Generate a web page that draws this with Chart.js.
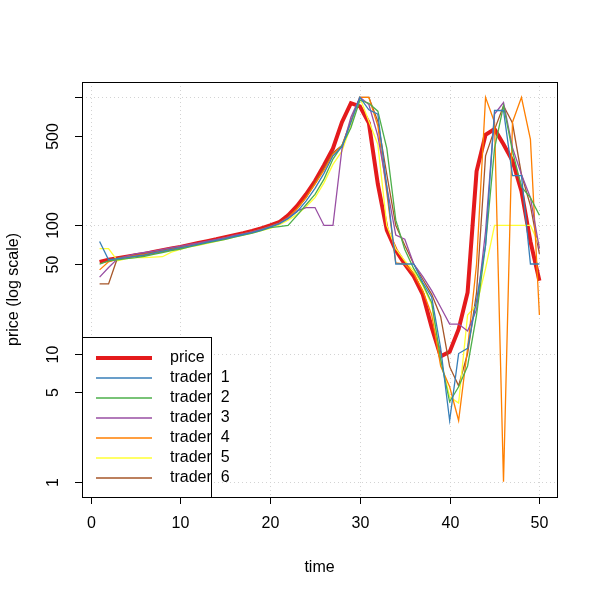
<!DOCTYPE html>
<html>
<head>
  <meta charset="utf-8">
  <script src="https://cdn.jsdelivr.net/npm/chart.js@4.4.1/dist/chart.umd.min.js"></script>
  <style>
    html, body { margin: 0; padding: 0; background: #fff; }
    canvas { display: block; }
  </style>
</head>
<body>
  <canvas id="traderChart" width="600" height="600"></canvas>

  <script>
    // time steps
    const time = [1, 2, 3, 4, 5, 6, 7, 8, 9, 10, 11, 12, 13, 14, 15, 16, 17, 18, 19, 20,
      21, 22, 23, 24, 25, 26, 27, 28, 29, 30, 31, 32, 33, 34, 35, 36, 37, 38, 39, 40,
      41, 42, 43, 44, 45, 46, 47, 48, 49, 50];

    const price = [52, 54, 55.5, 57, 58.5, 60, 62, 64, 66, 68, 70.5, 73, 75.5, 78, 81, 84, 87, 90.5, 95, 100,
      106, 120, 142, 175, 222, 295, 400, 640, 900, 850, 630, 210, 92, 64, 50, 40, 29, 16, 9.5, 10.3,
      15.5, 30, 265, 510, 565, 430, 320, 185, 75, 37];

    const trader1 = [75, 54, 55, 56, 57.5, 59, 61, 63, 65, 67, 69, 71.5, 74, 76.5, 79, 82, 85, 88, 92, 97,
      103, 113, 128, 155, 195, 255, 350, 410, 640, 1000, 800, 740, 200, 50, 50, 50, 36, 27.5, 11, 3,
      10, 11, 26, 70, 790, 790, 245, 245, 50, 50];

    const trader2 = [50, 53, 54, 55, 56, 57.5, 59.5, 61.5, 63.5, 65.5, 68, 70.5, 73, 75.5, 78, 81, 84, 87, 91, 96,
      98, 100, 120, 145, 175, 230, 330, 420, 580, 950, 900, 780, 400, 110, 65, 46, 35, 25, 9, 4.2,
      5.5, 8, 20, 70, 400, 860, 380, 200, 165, 120];

    const trader3 = [39.5, 47, 55, 57.5, 60, 61.5, 63, 65, 67, 69, 71, 73, 75.5, 78, 80.5, 83.5, 86, 89, 93, 98,
      104, 114, 130, 138, 138, 100, 100, 395, 700, 1000, 880, 500, 200, 84, 78, 50, 40, 31, 23, 17,
      17, 15, 22, 90, 740, 910, 405, 250, 165, 66];

    const trader4 = [45, 52, 55, 56.5, 58, 59.5, 61, 63, 65, 67, 69.5, 72, 74.5, 77, 80, 83, 86, 89, 93, 98,
      104, 115, 135, 165, 210, 270, 360, 420, 650, 1000, 1000, 600, 180, 51, 50, 42, 31, 20, 8, 5.5,
      3, 11, 50, 1000, 640, 1, 640, 1000, 470, 20];

    const trader5 = [66, 66, 53, 55, 56, 56, 56.5, 57, 62, 65, 68, 70, 72.5, 75, 78, 81, 84, 87, 91, 95,
      101, 110, 122, 140, 165, 215, 300, 380, 600, 1000, 650, 430, 100, 66, 53, 44, 34, 24, 9, 4.6,
      4.1, 20, 24, 46, 100, 100, 100, 100, 100, 70];

    const trader6 = [35, 35, 56, 57, 58.5, 60, 62, 64, 66, 68, 70, 72.5, 75, 77.5, 80, 83, 86, 89.5, 93.5, 99,
      105, 116, 135, 165, 215, 280, 370, 420, 650, 1000, 1000, 650, 250, 100, 70, 50, 38, 29, 19.4, 7.9,
      5.6, 10, 30, 350, 560, 860, 630, 250, 143, 60];

    const seriesNames = ["price", "trader  1", "trader  2", "trader  3", "trader  4", "trader  5", "trader  6"];
    const seriesData = [price, trader1, trader2, trader3, trader4, trader5, trader6];
    const colors = ["#E41A1C", "#377EB8", "#4DAF4A", "#984EA3", "#FF7F00", "#FFFF33", "#A65628"];

    const xTicks = [0, 10, 20, 30, 40, 50];
    const yTicks = [1, 5, 10, 50, 100, 500, 1000];
    const yTickLabels = ["1", "5", "10", "50", "100", "500", ""];
    const yGrid = [1, 10, 100, 1000];

    const FONT = '16px "Liberation Sans", Arial, sans-serif';

    const datasets = seriesData.map((vals, i) => ({
      label: seriesNames[i],
      data: time.map((t, j) => ({ x: t, y: vals[j] })),
      borderColor: colors[i],
      borderWidth: i === 0 ? 4 : 1.3,
      pointRadius: 0,
      tension: 0,
      fill: false,
      order: i === 0 ? 1 : 0,
    }));

    // R style axes, grid, box and legend
    const baseAxes = {
      id: "baseAxes",
      beforeDatasetsDraw(chart) {
        const { ctx, chartArea: a, scales: { x, y } } = chart;
        ctx.save();
        ctx.strokeStyle = "#d3d3d3";
        ctx.lineWidth = 1;
        ctx.setLineDash([1, 3]);
        xTicks.forEach(v => {
          const px = Math.round(x.getPixelForValue(v)) + 0.5;
          ctx.beginPath(); ctx.moveTo(px, a.top); ctx.lineTo(px, a.bottom); ctx.stroke();
        });
        yGrid.forEach(v => {
          const py = Math.round(y.getPixelForValue(v)) + 0.5;
          ctx.beginPath(); ctx.moveTo(a.left, py); ctx.lineTo(a.right, py); ctx.stroke();
        });
        ctx.restore();
      },
      afterDraw(chart) {
        const { ctx, chartArea: a, scales: { x, y } } = chart;
        ctx.save();
        ctx.strokeStyle = "#000";
        ctx.fillStyle = "#000";
        ctx.lineWidth = 1;
        ctx.setLineDash([]);
        ctx.font = FONT;

        // x axis
        ctx.textAlign = "center";
        ctx.textBaseline = "middle";
        xTicks.forEach(v => {
          const px = Math.round(x.getPixelForValue(v)) + 0.5;
          ctx.beginPath(); ctx.moveTo(px, a.bottom); ctx.lineTo(px, a.bottom + 7); ctx.stroke();
          ctx.fillText(String(v), px, a.bottom + 27);
        });
        ctx.fillText("time", (a.left + a.right) / 2, 568);

        // y axis
        yTicks.forEach((v, i) => {
          const py = Math.round(y.getPixelForValue(v)) + 0.5;
          ctx.beginPath(); ctx.moveTo(a.left, py); ctx.lineTo(a.left - 7, py); ctx.stroke();
          if (yTickLabels[i]) {
            ctx.save();
            ctx.translate(a.left - 28, py);
            ctx.rotate(-Math.PI / 2);
            ctx.fillText(yTickLabels[i], 0, 0);
            ctx.restore();
          }
        });
        ctx.save();
        ctx.translate(14, (a.top + a.bottom) / 2);
        ctx.rotate(-Math.PI / 2);
        ctx.fillText("price (log scale)", 0, 0);
        ctx.restore();

        // box
        ctx.strokeRect(Math.round(a.left) + 0.5, Math.round(a.top) + 0.5,
          Math.round(a.right - a.left), Math.round(a.bottom - a.top));

        // legend
        const lx = Math.round(a.left) + 0.5, ly = 337.5, lw = 129, lh = Math.round(a.bottom) - 337;
        ctx.fillStyle = "#fff";
        ctx.fillRect(lx, ly, lw, lh);
        ctx.strokeStyle = "#000";
        ctx.strokeRect(lx, ly, lw, lh);
        ctx.textAlign = "left";
        seriesNames.forEach((name, i) => {
          const yy = 358 + i * 20;
          ctx.strokeStyle = colors[i];
          ctx.lineWidth = i === 0 ? 4 : 1.3;
          ctx.beginPath(); ctx.moveTo(96, yy); ctx.lineTo(152, yy); ctx.stroke();
          ctx.fillStyle = "#000";
          ctx.fillText(name, 170, yy);
        });
        ctx.restore();
      }
    };

    new Chart(document.getElementById("traderChart"), {
      type: "line",
      data: { datasets },
      options: {
        responsive: false,
        animation: false,
        layout: { padding: { left: 82, top: 82, right: 43, bottom: 103 } },
        scales: {
          x: { type: "linear", min: -0.96, max: 51.96, display: false },
          y: { type: "logarithmic", min: Math.pow(10, -0.12), max: Math.pow(10, 3.12), display: false },
        },
        plugins: {
          legend: { display: false },
          tooltip: { enabled: false },
        },
      },
      plugins: [baseAxes],
    });
  </script>
</body>
</html>
